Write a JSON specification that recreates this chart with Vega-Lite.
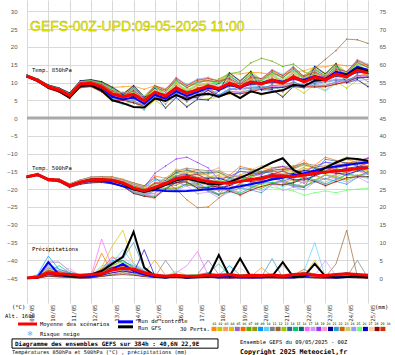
{
"$schema":"https://vega.github.io/schema/vega-lite/v6.json",
"width":341,"height":303,
"autosize":{"type":"none"},
"padding":{"left":27,"top":0,"right":27,"bottom":52},
"background":"white",
"config":{"view":{"stroke":null}},
"data":{"values":[{}]},
"datasets":{
"mem":[
{"h":0,"a":[12.1,11.6,11.9,11.7,12.0,11.5,11.8,12.0,11.7,11.5,11.9,11.7,12.1,11.6,11.9,12.0,11.6,12.0,11.8,11.7,12.1,11.6,11.9,11.8,11.6,12.0,11.7,11.8,11.5,11.9],"b":[-16.3,-16.6,-16.7,-16.4,-16.6,-16.3,-16.6,-16.5,-16.4,-16.7,-16.4,-16.5,-16.6,-16.3,-16.7,-16.4,-16.5,-16.6,-16.4,-16.6,-16.5,-16.7,-16.4,-16.3,-16.6,-16.4,-16.5,-16.4,-16.7,-16.5],"c":[0,0,0,0,0,0,0,0,0,0,0,0,0,0,0,0,0,0,0,0,0,0,0,0,0,0,0,0,0,0]},
{"h":12,"a":[11.0,10.3,10.7,10.5,10.8,10.2,10.6,10.9,10.4,10.2,10.8,10.5,11.0,10.4,10.7,10.9,10.3,10.8,10.6,10.4,11.0,10.3,10.7,10.7,10.4,10.9,10.5,10.6,10.2,10.8],"b":[-15.7,-16.1,-16.2,-15.8,-16.0,-15.6,-16.1,-15.8,-15.7,-16.1,-15.8,-15.9,-16.0,-15.6,-16.1,-15.8,-15.9,-16.1,-15.7,-16.0,-15.9,-16.2,-15.8,-15.6,-16.1,-15.8,-16.0,-15.7,-16.2,-15.9],"c":[0.3,0.2,0.5,0.2,0.8,0.1,0.4,0.1,1.0,0.2,0,0.3,0.5,0.1,0.7,0,0.2,0.4,0,0.6,0.3,0.1,0.5,0,0.2,0.8,0.1,0.3,0,0.4]},
{"h":24,"a":[9.3,8.5,9.0,8.7,9.1,8.3,8.9,9.2,8.6,8.4,9.0,8.7,9.3,8.5,8.9,9.2,8.4,9.1,8.8,8.6,9.3,8.4,9.0,8.9,8.5,9.1,8.7,8.8,8.3,9.0],"b":[-17.1,-17.5,-17.6,-17.2,-17.4,-17.0,-17.5,-17.2,-17.1,-17.5,-17.2,-17.3,-17.4,-17.0,-17.5,-17.2,-17.3,-17.5,-17.1,-17.4,-17.3,-17.6,-17.2,-17.0,-17.5,-17.2,-17.4,-17.1,-17.6,-17.3],"c":[2.5,1.0,3.0,1.5,4.5,0.8,2.0,1.2,6.2,3.5,1.0,2.2,1.8,2.8,1.5,0.5,2.0,3.2,1.0,2.5,1.5,3.8,2.0,0.8,1.2,2.6,1.0,1.8,0.6,2.2]},
{"h":36,"a":[8.4,7.5,8.1,7.8,8.3,7.3,8.0,8.4,7.6,7.4,8.1,7.7,8.5,7.5,8.0,8.3,7.4,8.2,7.8,7.7,8.5,7.5,8.1,8.0,7.6,8.3,7.8,7.9,7.3,8.2],"b":[-17.2,-17.7,-17.9,-17.3,-17.6,-17.1,-17.7,-17.4,-17.2,-17.8,-17.3,-17.5,-17.7,-17.1,-17.8,-17.4,-17.4,-17.7,-17.2,-17.6,-17.5,-17.9,-17.3,-17.1,-17.8,-17.4,-17.6,-17.3,-17.9,-17.5],"c":[1.5,0.8,2.0,1.0,4.5,0.5,1.2,0.8,2.5,1.8,0.5,1.5,1.0,2.0,3.5,0.3,1.2,2.0,0.8,1.5,1.0,2.5,1.8,0.5,0.8,1.6,0.6,1.2,0.4,1.4]},
{"h":48,"a":[7.0,5.7,6.5,6.1,6.8,5.5,6.4,6.9,5.9,5.6,6.6,6.1,7.1,5.8,6.5,6.9,5.7,6.7,6.2,6.0,7.1,5.7,6.6,6.4,5.9,6.8,6.1,6.3,5.5,6.7],"b":[-18.6,-19.3,-19.5,-18.8,-19.2,-18.5,-19.3,-18.9,-18.7,-19.4,-18.8,-19.1,-19.2,-18.5,-19.4,-18.8,-18.9,-19.3,-18.7,-19.1,-19.0,-19.5,-18.8,-18.6,-19.4,-18.9,-19.1,-18.7,-19.5,-19.0],"c":[0.8,0.5,1.2,0.6,2.0,0.3,0.8,0.5,1.5,1.0,0.3,0.8,0.6,1.2,1.5,0.2,0.8,1.2,0.5,2.8,0.6,1.5,1.0,0.3,0.5,1.0,0.4,0.8,0.2,0.9]},
{"h":60,"a":[10.4,8.8,9.8,9.3,10.1,8.5,9.6,10.3,9.0,8.6,9.9,9.2,10.5,8.9,9.7,10.2,8.7,10.0,9.4,9.1,10.5,8.8,9.9,9.7,9.0,10.2,9.3,9.6,8.6,10.0],"b":[-17.5,-18.3,-18.5,-17.8,-18.2,-17.4,-18.4,-17.9,-17.6,-18.5,-17.7,-18.1,-18.2,-17.4,-18.5,-17.8,-17.9,-18.3,-17.6,-18.2,-18.0,-18.6,-17.7,-17.5,-18.4,-17.8,-18.1,-17.6,-18.6,-17.9],"c":[0.3,0.2,0.5,0.2,0.8,0.1,0.4,0.1,0.6,0.2,0,0.3,0.5,0.1,0.7,0,0.2,0.4,0,0.6,0.3,0.1,0.5,0,0.2,0.8,0.1,0.3,0,0.4]},
{"h":72,"a":[10.7,9.1,10.1,9.6,10.4,8.8,9.9,10.6,9.3,8.9,10.2,9.5,10.8,9.2,10.0,10.5,9.0,10.3,9.7,9.4,10.8,9.1,10.2,10.0,9.3,10.5,9.6,9.9,8.9,10.3],"b":[-16.8,-17.8,-18.1,-17.1,-17.6,-16.6,-17.9,-17.2,-16.8,-18.0,-17.0,-17.5,-17.7,-16.6,-18.0,-17.1,-17.3,-17.8,-16.9,-17.6,-17.4,-18.2,-17.0,-16.7,-18.0,-17.2,-17.6,-16.9,-18.2,-17.3],"c":[0.5,0.3,0.8,0.4,1.0,0.2,0.6,0.2,0.8,0.5,0.1,0.5,0.6,0.3,1.0,0.1,0.4,0.6,0.1,0.8,0.4,0.3,0.8,0.1,0.4,1.0,0.2,0.5,0.1,0.6]},
{"h":84,"a":[10.2,7.8,9.3,8.5,9.7,7.3,9.0,10.0,8.1,7.5,9.4,8.4,10.3,7.9,9.1,9.9,7.6,9.6,8.7,8.2,10.2,7.7,9.3,9.0,8.0,9.8,8.4,8.9,7.4,9.5],"b":[-16.7,-17.7,-18.0,-17.0,-17.5,-16.5,-17.8,-17.1,-16.7,-17.9,-16.9,-17.4,-17.6,-16.5,-17.9,-17.0,-17.2,-17.7,-16.8,-17.5,-17.3,-18.1,-16.9,-16.6,-17.9,-17.1,-17.5,-16.8,-18.1,-17.2],"c":[2.0,1.0,2.5,3.0,1.5,7.0,1.2,1.0,2.0,3.5,0.5,1.8,1.0,2.5,1.5,0.5,11.0,2.0,0.8,1.5,1.5,1.0,2.5,0.6,1.0,1.8,0.8,1.5,0.5,2.0]},
{"h":96,"a":[8.6,5.4,7.4,6.4,8.0,4.8,7.0,8.4,5.8,5.0,7.6,6.2,8.8,5.6,7.2,8.2,5.2,7.8,6.6,6.0,8.7,5.3,7.5,7.1,5.7,8.1,6.3,6.9,4.9,7.7],"b":[-16.7,-18.0,-18.4,-17.1,-17.8,-16.5,-18.1,-17.3,-16.8,-18.3,-17.0,-17.6,-17.9,-16.6,-18.3,-17.2,-17.4,-18.1,-16.9,-17.8,-17.5,-18.5,-17.1,-16.6,-18.2,-17.2,-17.7,-16.9,-18.5,-17.4],"c":[3.0,2.0,4.0,9.0,2.5,1.5,3.5,2.0,5.0,4.0,1.0,3.0,2.5,4.5,2.0,1.0,3.0,5.5,1.5,2.5,3.0,4.0,6.0,1.0,2.0,3.5,1.5,2.5,0.8,3.0]},
{"h":108,"a":[8.8,3.8,5.4,6.2,6.7,5.3,5.2,6.9,6.1,3.8,5.5,6.3,6.9,6.0,5.8,6.4,5.2,6.1,7.2,4.9,6.7,5.2,5.9,7.3,6.1,6.2,6.0,4.7,5.0,6.3],"b":[-17.4,-18.7,-19.1,-17.8,-18.5,-17.2,-18.8,-18.0,-17.5,-19.0,-17.7,-18.3,-18.6,-17.3,-19.0,-17.9,-18.1,-18.8,-17.6,-18.5,-18.2,-19.2,-17.8,-17.3,-18.9,-17.9,-18.4,-17.6,-19.2,-18.1],"c":[4.0,2.5,3.0,13.5,3.0,2.0,5.0,3.5,4.5,8.0,1.5,3.5,2.0,5.0,3.0,1.5,4.0,6.0,2.0,3.0,2.5,5.5,4.0,1.5,2.5,4.5,2.0,3.0,1.0,3.5]},
{"h":120,"a":[9.0,5.0,7.5,6.2,8.2,4.2,7.0,8.7,5.5,4.5,7.7,6.0,9.2,5.2,7.2,8.5,4.7,8.0,6.5,5.7,9.1,4.8,7.6,7.1,5.3,8.3,6.1,6.8,4.3,7.8],"b":[-18.5,-20.5,-21.1,-19.1,-20.2,-18.2,-20.6,-19.4,-18.7,-20.9,-19.0,-19.9,-20.3,-18.3,-20.8,-19.2,-19.5,-20.5,-18.7,-20.1,-19.6,-21.1,-19.0,-18.4,-20.8,-19.3,-20.0,-18.8,-21.2,-19.6],"c":[2.5,1.5,2.0,4.0,2.0,1.5,3.0,2.0,3.5,4.0,1.0,2.5,1.5,3.0,2.0,1.0,2.5,3.5,1.5,2.0,1.5,10.0,3.0,1.0,1.5,3.0,1.5,2.0,0.8,2.5]},
{"h":132,"a":[8.1,2.3,4.4,4.9,5.8,3.6,4.1,6.1,4.7,2.2,4.5,5.0,6.2,4.5,4.7,5.6,3.6,5.2,6.0,3.5,6.0,3.6,4.9,6.2,4.6,5.3,4.7,3.5,3.3,5.3],"b":[-19.3,-21.3,-21.9,-19.9,-21.0,-19.0,-21.4,-20.2,-19.5,-21.7,-19.8,-20.7,-21.1,-19.1,-21.6,-20.0,-20.3,-21.3,-19.5,-20.9,-20.4,-21.9,-19.8,-19.2,-21.6,-20.1,-20.8,-19.6,-22.0,-20.4],"c":[1.5,0.8,1.2,2.0,1.0,0.8,1.5,1.0,2.0,2.5,0.5,1.5,0.8,2.0,1.2,0.5,1.5,2.0,0.8,1.2,0.8,2.5,1.5,0.5,0.8,1.5,8.0,1.2,0.4,1.5]},
{"h":144,"a":[9.1,5.0,7.8,6.8,8.8,5.3,7.6,8.8,5.8,7.9,6.9,6.8,9.2,5.6,8.4,8.4,5.6,9.2,6.8,7.7,6.7,5.8,8.8,7.6,5.3,8.8,6.8,7.8,5.6,9.1],"b":[-18.5,-19.6,-22.7,-18.2,-21.2,-16.3,-19.7,-19.9,-17.4,-22.3,-18.8,-18.3,-21.2,-16.8,-22.0,-19.4,-18.0,-21.7,-15.5,-21.3,-19.8,-20.3,-19.3,-18.7,-19.6,-19.4,-19.3,-19.5,-22.3,-18.3],"c":[5.0,0.5,0.8,0.6,0.5,0.3,0.8,0.5,1.0,0.8,0.3,0.8,0.5,1.0,0.6,0.3,0.8,1.0,0.4,0.6,0.5,1.2,0.8,0.3,0.5,0.8,0.6,0.6,0.2,0.8]},
{"h":156,"a":[8.3,3.0,5.1,6.2,7.3,6.1,5.6,6.4,5.4,8.2,3.9,6.9,6.4,5.4,7.4,5.7,5.5,7.8,6.9,6.9,2.8,5.7,7.4,7.5,4.9,6.6,6.2,5.6,5.4,7.9],"b":[-17.3,-19.7,-18.9,-17.9,-18.8,-16.9,-19.8,-17.5,-17.5,-19.8,-16.9,-18.8,-18.0,-18.8,-19.7,-17.3,-18.2,-20.0,-13.5,-18.9,-18.1,-20.1,-18.0,-17.1,-20.1,-18.1,-18.9,-17.2,-20.0,-18.2],"c":[0.8,0.3,0.5,0.4,0.3,0.2,0.5,0.3,0.6,0.5,5.0,0.5,0.3,0.6,0.4,0.2,0.5,0.6,0.3,0.4,0.3,0.8,0.5,0.2,0.3,0.5,0.4,0.4,0.1,0.5]},
{"h":168,"a":[9.9,5.7,8.7,7.8,10.5,6.9,9.0,9.6,6.3,11.4,7.3,8.2,10.0,6.1,10.6,9.1,6.7,11.5,7.6,9.7,5.8,7.0,10.9,8.8,5.5,10.3,7.9,9.4,6.4,11.2],"b":[-14.6,-19.5,-15.0,-18.0,-16.4,-16.3,-19.8,-15.1,-16.6,-17.6,-14.8,-18.9,-15.6,-18.1,-17.6,-15.4,-17.9,-17.8,-11.5,-16.3,-16.2,-20.2,-20.0,-14.3,-20.4,-16.1,-18.2,-14.2,-18.1,-17.7],"c":[0.5,0.3,1.0,0.4,0.8,0.2,0.6,0.3,0.8,0.5,0.8,0.5,0.3,1.2,0.4,0.2,1.5,0.6,0.3,0.4,0.3,0.8,0.5,0.2,0.3,2.0,0.4,0.4,0.1,0.5]},
{"h":180,"a":[9.4,3.4,6.0,6.9,8.5,6.7,6.5,7.4,5.9,9.5,4.5,7.6,7.4,5.8,8.5,6.6,6.0,9.1,7.5,7.9,3.1,6.2,8.6,8.3,5.2,7.7,6.9,6.5,5.8,9.1],"b":[-15.7,-18.5,-14.2,-17.6,-16.9,-15.4,-18.6,-14.9,-16.1,-18.1,-14.1,-17.4,-15.6,-18.9,-17.9,-14.6,-16.4,-19.1,-11.0,-17.1,-15.9,-18.4,-23.0,-15.5,-19.0,-16.5,-17.2,-15.0,-18.0,-16.2],"c":[0.3,0.2,0.5,0.2,0.8,0.1,0.4,0.1,0.6,0.2,0,0.3,0.5,0.1,0.7,0,3.5,0.4,0,0.6,0.3,0.1,0.5,0,0.2,0.8,0.1,0.3,0,0.4]},
{"h":192,"a":[9.4,5.2,8.2,7.3,10.0,6.4,8.5,9.1,5.8,10.9,6.8,7.7,9.5,5.6,10.1,8.6,6.2,11.0,7.1,9.2,5.3,6.5,10.4,8.3,5.0,9.8,7.4,8.9,5.9,10.7],"b":[-16.8,-18.6,-15.8,-17.9,-18.6,-14.5,-18.6,-15.9,-15.9,-20.2,-14.5,-16.7,-16.9,-19.1,-19.7,-15.4,-15.7,-21.3,-12.5,-19.1,-16.7,-18.2,-25.2,-16.9,-18.8,-17.6,-17.4,-16.5,-19.7,-15.8],"c":[0.5,0.3,0.8,0.4,1.0,0.2,0.6,0.2,0.8,0.5,0.1,0.5,0.6,0.3,1.0,0.1,7.5,0.6,0.1,0.8,0.4,0.3,0.8,0.1,0.4,1.0,0.2,0.5,0.1,0.6]},
{"h":204,"a":[11.4,5.4,8.0,8.9,10.5,8.7,8.5,9.4,7.9,11.5,6.5,9.6,9.4,7.8,10.5,8.6,8.0,11.1,9.5,9.9,5.1,8.2,10.6,10.3,7.2,9.7,8.9,8.5,7.8,11.1],"b":[-16.8,-20.1,-15.0,-19.0,-18.1,-16.3,-20.2,-15.7,-17.2,-19.6,-14.8,-18.7,-16.6,-20.5,-19.3,-15.4,-17.5,-20.8,-14.0,-18.4,-16.9,-19.9,-25.0,-16.5,-20.7,-17.7,-18.6,-15.9,-19.5,-17.4],"c":[0.8,0.5,1.2,0.6,5.0,0.3,0.8,0.5,1.5,1.0,0.3,0.8,0.6,1.2,1.5,0.2,0.8,1.2,0.5,1.0,0.6,1.5,1.0,0.3,0.5,1.0,0.4,0.8,0.2,0.9]},
{"h":216,"a":[10.4,5.9,8.9,7.7,10.1,6.3,11.0,10.1,6.5,8.9,7.9,7.7,10.6,6.2,9.7,9.7,6.2,10.6,7.7,8.7,7.6,6.5,10.1,8.6,5.9,10.1,7.7,8.9,5.9,10.4],"b":[-16.6,-21.4,-14.0,-19.9,-17.4,-17.9,-21.6,-15.3,-18.3,-18.8,-14.9,-20.5,-16.1,-21.7,-18.7,-15.2,-19.1,-20.1,-17.3,-17.5,-16.9,-21.4,-22.5,-15.9,-22.4,-17.6,-19.6,-15.1,-19.1,-18.8],"c":[0.5,0.3,0.8,0.4,1.0,0.2,0.6,0.2,0.8,0.5,0.1,0.5,0.6,0.3,4.0,0.1,0.4,0.6,0.1,0.8,0.4,0.3,0.8,0.1,0.4,1.0,0.2,0.5,0.1,0.6]},
{"h":228,"a":[12.5,7.7,10.7,9.2,11.6,6.8,12.5,12.2,8.3,7.1,11.0,8.9,12.8,8.0,10.4,11.9,7.4,11.3,9.5,8.6,12.7,7.6,10.9,10.3,8.2,11.8,9.1,10.0,7.0,11.2],"b":[-16.6,-20.2,-17.6,-18.9,-18.9,-16.1,-20.4,-17.0,-17.0,-20.4,-16.1,-18.9,-18.8,-17.8,-20.2,-16.6,-17.9,-20.6,-16.4,-19.0,-17.8,-20.8,-20.0,-16.3,-20.8,-17.8,-19.0,-16.4,-20.6,-17.9],"c":[0.3,0.2,0.5,0.2,0.8,0.1,0.4,0.1,3.5,0.2,0,0.3,0.5,0.1,0.7,0,0.2,0.4,0,0.6,0.3,0.1,0.5,0,0.2,0.8,0.1,0.3,0,0.4]},
{"h":240,"a":[12.4,5.8,8.4,8.7,10.0,7.0,13.0,10.4,8.3,5.6,8.6,8.7,10.6,8.1,8.7,9.8,7.1,9.3,9.8,7.2,10.4,7.2,9.0,10.2,8.3,9.6,8.5,7.5,6.8,9.5],"b":[-16.0,-18.4,-21.9,-16.1,-19.8,-13.6,-18.6,-18.0,-15.0,-21.4,-16.6,-16.7,-19.9,-14.2,-21.1,-17.4,-16.2,-20.6,-15.0,-19.9,-18.1,-19.6,-18.5,-16.1,-18.6,-17.4,-17.8,-17.2,-21.6,-16.5],"c":[0.5,0.3,0.8,0.4,1.0,0.2,0.6,0.2,0.8,0.5,0.1,0.5,0.6,0.3,1.0,0.1,0.4,0.6,0.1,0.8,0.4,0.3,0.8,0.1,0.4,1.0,0.2,3.0,0.1,0.6]},
{"h":252,"a":[12.9,8.1,11.1,9.6,12.0,7.2,15.5,12.6,8.7,7.5,11.4,9.3,13.2,8.4,10.8,12.3,7.8,11.7,9.9,9.0,13.1,8.0,11.3,10.7,8.6,12.2,9.5,10.4,7.4,11.6],"b":[-14.9,-18.8,-20.0,-16.1,-18.2,-14.3,-19.1,-16.7,-15.2,-19.7,-15.8,-17.6,-18.5,-14.5,-19.6,-16.3,-16.9,-19.0,-15.4,-18.1,-17.2,-20.2,-16.0,-14.6,-19.4,-16.4,-17.9,-15.5,-20.3,-17.0],"c":[0.3,0.2,0.5,0.2,0.8,0.1,0.4,0.1,0.6,0.2,0,0.3,0.5,0.1,0.7,0,0.2,0.4,0,0.6,0.3,0.1,0.5,0,0.2,0.8,0.1,0.3,0,0.4]},
{"h":264,"a":[12.7,6.4,9.0,9.6,10.9,8.5,16.8,10.7,8.9,9.7,7.9,9.9,10.8,8.7,10.4,10.0,8.3,11.0,10.4,9.6,7.9,8.5,10.6,10.9,8.4,10.3,9.5,8.8,8.1,11.1],"b":[-14.0,-19.4,-18.3,-16.3,-16.8,-15.2,-19.8,-15.6,-15.6,-18.2,-15.2,-18.7,-17.3,-15.0,-18.3,-15.4,-17.8,-17.6,-16.0,-16.5,-16.5,-21.0,-15.0,-13.3,-20.4,-18.5,-18.2,-14.0,-19.2,-17.7],"c":[3.0,0.3,0.8,0.4,1.0,0.2,0.6,0.2,0.8,0.5,0.1,0.5,0.6,0.3,1.0,0.1,0.4,0.6,0.1,0.8,0.4,0.3,0.8,0.1,0.4,1.0,0.2,0.5,0.1,0.6]},
{"h":276,"a":[12.1,7.9,10.9,10.0,12.7,9.1,16.0,11.8,8.5,13.6,9.5,10.4,12.2,8.3,12.8,11.3,8.9,13.7,9.8,11.9,8.0,9.2,13.1,11.0,7.7,12.5,10.1,11.6,8.6,13.4],"b":[-14.5,-18.1,-15.6,-17.0,-16.8,-14.0,-18.3,-14.9,-14.9,-18.3,-14.0,-16.8,-16.7,-15.5,-18.1,-14.5,-15.8,-18.5,-14.3,-16.9,-15.7,-18.7,-14.6,-13.9,-18.7,-19.5,-16.9,-14.3,-18.5,-15.8],"c":[0.5,0.3,0.8,0.4,1.0,0.2,0.6,0.2,0.8,0.5,0.1,0.5,0.6,0.3,1.0,0.1,0.4,0.6,0.1,0.8,0.4,5.5,0.8,0.1,0.4,1.0,0.2,0.5,0.1,0.6]},
{"h":288,"a":[12.2,6.2,8.8,9.7,11.3,9.5,14.5,10.2,8.7,12.3,7.3,10.4,10.2,8.6,11.3,9.4,8.8,11.9,10.3,10.7,5.9,9.0,11.4,11.1,8.0,10.5,9.7,9.3,8.6,11.9],"b":[-15.9,-17.7,-14.9,-17.0,-17.7,-13.6,-17.7,-15.0,-15.0,-19.3,-13.6,-15.8,-16.0,-18.2,-18.8,-14.5,-14.8,-20.4,-13.6,-18.2,-15.8,-17.3,-14.3,-16.0,-17.9,-20.0,-16.5,-15.6,-18.8,-14.9],"c":[0.3,0.2,3.5,0.2,0.8,0.1,0.4,0.1,0.6,0.2,0,0.3,0.5,0.1,0.7,0,0.2,0.4,0,0.6,0.3,0.1,0.5,0,0.2,0.8,0.1,0.3,0,0.4]},
{"h":300,"a":[13.0,8.8,11.8,10.9,13.6,10.0,15.2,12.7,9.4,14.5,10.4,11.3,13.1,9.2,13.7,12.2,9.8,14.6,10.7,12.8,8.9,10.1,14.0,11.9,8.6,13.4,11.0,12.5,9.5,14.3],"b":[-15.5,-18.8,-13.7,-17.7,-16.8,-15.0,-18.9,-14.4,-15.9,-18.3,-13.5,-17.4,-15.3,-19.2,-18.0,-14.1,-16.2,-19.5,-14.7,-17.1,-15.6,-18.6,-13.8,-15.2,-19.4,-20.5,-17.3,-14.6,-18.2,-16.1],"c":[0.5,0.3,0.8,0.4,1.0,0.2,0.6,0.2,0.8,0.5,0.1,0.5,0.6,0.3,1.0,0.1,0.4,0.6,0.1,0.8,0.4,0.3,0.8,0.1,0.4,1.0,0.2,0.5,0.1,0.6]},
{"h":312,"a":[13.3,7.0,9.6,10.2,11.5,9.1,13.0,11.3,9.5,10.3,8.5,12.0,11.4,9.3,11.0,10.6,8.9,11.6,11.0,10.2,8.5,9.1,11.2,11.5,9.0,10.9,10.1,9.4,8.7,11.7],"b":[-14.4,-19.2,-11.8,-17.7,-15.2,-15.7,-19.4,-13.1,-16.1,-16.6,-12.7,-18.3,-13.9,-19.5,-16.5,-13.0,-16.9,-17.9,-15.1,-15.3,-14.7,-19.2,-12.6,-13.7,-20.2,-21.7,-17.4,-12.9,-16.9,-16.6],"c":[0.8,0.5,1.2,0.6,1.5,0.3,0.8,0.5,1.5,2.0,0.3,0.8,0.6,1.2,1.5,0.2,0.8,1.2,0.5,1.0,0.6,1.5,2.5,0.3,0.5,1.0,0.4,0.8,0.2,0.9]},
{"h":324,"a":[14.3,9.5,12.5,11.0,13.4,8.6,11.9,14.0,10.1,8.9,12.8,14.0,14.6,9.8,12.2,13.7,9.2,13.1,11.3,10.4,14.5,9.4,12.7,12.1,10.0,13.6,10.9,11.8,8.8,13.0],"b":[-13.8,-17.4,-14.9,-16.3,-16.1,-13.3,-17.6,-14.2,-14.2,-17.6,-13.3,-16.1,-16.0,-14.8,-17.4,-13.8,-15.1,-17.8,-13.6,-16.2,-15.0,-18.0,-13.9,-13.2,-18.0,-21.0,-16.2,-13.6,-17.8,-15.1],"c":[0.5,0.3,0.8,5.0,1.0,0.2,0.6,0.2,0.8,10.0,0.1,0.5,0.6,0.3,1.0,0.1,0.4,0.6,0.1,0.8,0.4,0.3,0.8,0.1,0.4,1.0,0.2,0.5,0.1,0.6]},
{"h":336,"a":[14.4,7.8,10.4,10.7,12.0,9.0,10.0,12.4,10.3,7.6,10.6,16.5,12.6,10.1,10.7,11.8,9.1,11.3,11.8,9.2,12.4,9.2,11.0,12.2,10.3,11.6,10.5,9.5,8.8,11.5],"b":[-13.4,-15.8,-19.3,-13.5,-17.2,-11.0,-16.0,-15.4,-12.4,-18.8,-14.0,-14.1,-17.3,-11.6,-18.5,-14.8,-13.6,-18.0,-12.4,-17.3,-15.5,-17.0,-14.6,-13.5,-16.0,-20.5,-15.2,-14.6,-19.0,-13.9],"c":[0.3,0.2,0.5,0.2,0.8,0.1,0.4,0.1,0.6,0.2,0,0.3,0.5,0.1,0.7,0,0.2,5.0,0,0.6,0.3,0.1,0.5,0,0.2,0.8,0.1,0.3,0,0.4]},
{"h":348,"a":[15.1,10.3,13.3,11.8,14.2,9.4,12.7,14.8,10.9,9.7,13.6,19.0,15.4,10.6,13.0,14.5,10.0,13.9,12.1,11.2,15.3,10.2,13.5,12.9,10.8,14.4,11.7,12.6,9.6,13.8],"b":[-12.5,-16.4,-17.6,-13.7,-15.8,-11.9,-16.7,-14.3,-12.8,-17.3,-13.4,-15.2,-16.1,-12.1,-17.2,-13.9,-14.5,-16.6,-13.0,-15.7,-14.8,-17.8,-13.6,-12.2,-17.0,-21.0,-15.5,-13.1,-17.9,-14.6],"c":[0.5,0.3,0.8,0.4,1.0,0.2,0.6,0.2,0.8,0.5,0.1,4.0,0.6,0.3,1.0,0.1,0.4,0.6,0.1,0.8,0.4,0.3,0.8,0.1,0.4,1.0,0.2,0.5,0.1,0.6]},
{"h":360,"a":[14.7,8.4,11.0,11.6,12.9,10.5,10.9,12.7,10.9,11.7,9.9,22.2,12.8,10.7,12.4,12.0,10.3,13.0,12.4,11.6,9.9,10.5,12.6,12.9,10.4,12.3,11.5,10.8,10.1,13.1],"b":[-11.6,-17.0,-15.9,-13.9,-14.4,-12.8,-17.4,-13.2,-13.2,-15.8,-12.8,-16.3,-14.9,-12.6,-15.9,-13.0,-15.4,-15.2,-13.6,-14.1,-14.1,-18.6,-12.6,-10.9,-18.0,-20.3,-15.8,-11.6,-16.8,-15.3],"c":[0.8,0.5,1.2,0.6,1.5,0.3,0.8,0.5,1.5,1.0,0.3,13.5,0.6,1.2,1.5,0.2,0.8,1.2,0.5,1.0,0.6,1.5,1.0,0.3,0.5,1.0,0.4,0.8,0.2,0.9]},
{"h":372,"a":[14.9,10.7,13.7,12.8,15.5,11.9,14.0,14.6,11.3,16.4,12.3,22.0,15.0,11.1,15.6,14.1,11.7,16.5,12.6,14.7,10.8,12.0,15.9,13.8,10.5,15.3,12.9,14.4,11.4,16.2],"b":[-12.5,-16.1,-13.6,-15.0,-14.8,-12.0,-16.3,-12.9,-12.9,-16.3,-12.0,-14.8,-14.7,-13.5,-16.1,-12.5,-13.8,-16.5,-12.3,-14.9,-13.7,-16.7,-12.6,-11.9,-16.7,-20.0,-14.9,-12.3,-16.5,-13.8],"c":[0.5,0.3,0.8,0.4,1.0,0.2,0.6,0.2,0.8,0.5,5.0,0.5,0.6,0.3,1.0,0.1,0.4,0.6,0.1,0.8,0.4,0.3,0.8,0.1,0.4,1.0,0.2,0.5,0.1,0.6]},
{"h":384,"a":[15.1,9.1,11.7,12.6,14.2,12.4,12.2,13.1,11.6,15.2,10.2,21.0,13.1,11.5,14.2,12.3,11.7,14.8,13.2,13.6,8.8,11.9,14.3,14.0,10.9,13.4,12.6,12.2,11.5,14.8],"b":[-13.6,-15.4,-12.6,-14.7,-15.4,-11.3,-15.4,-12.7,-12.7,-17.0,-11.3,-13.5,-13.7,-15.9,-16.5,-12.2,-12.5,-18.1,-11.3,-15.9,-13.5,-15.0,-12.0,-13.7,-15.6,-19.7,-14.2,-13.3,-16.5,-12.6],"c":[0.3,0.2,0.5,0.2,0.8,0.1,0.4,0.1,0.6,0.2,0,0.3,0.5,0.1,0.7,0,0.2,0.4,0,0.6,0.3,0.1,0.5,0,0.2,0.8,0.1,0.3,0,0.4]}
],
"main":[
{"h":0,"ma":11.8,"mb":-16.5,"mc":0,"ca":11.8,"cb":-16.5,"cc":0,"ga":11.8,"gb":-16.5,"gc":0},
{"h":12,"ma":10.6,"mb":-15.9,"mc":0.3,"ca":10.6,"cb":-15.9,"cc":0.3,"ga":10.5,"gb":-15.9,"gc":0.2},
{"h":24,"ma":8.8,"mb":-17.3,"mc":1.5,"ca":8.8,"cb":-17.3,"cc":4.5,"ga":8.6,"gb":-17.3,"gc":1.5},
{"h":36,"ma":7.9,"mb":-17.5,"mc":1.2,"ca":7.8,"cb":-17.5,"cc":1.0,"ga":7.6,"gb":-17.5,"gc":1.0},
{"h":48,"ma":6.3,"mb":-19.0,"mc":1.0,"ca":6.2,"cb":-19.0,"cc":0.5,"ga":5.8,"gb":-19.0,"gc":0.5},
{"h":60,"ma":9.5,"mb":-18.0,"mc":0.8,"ca":9.4,"cb":-18.1,"cc":0.3,"ga":9.0,"gb":-18.0,"gc":0.5},
{"h":72,"ma":9.8,"mb":-17.4,"mc":1.0,"ca":9.6,"cb":-17.6,"cc":0.5,"ga":9.2,"gb":-17.3,"gc":1.0},
{"h":84,"ma":8.8,"mb":-17.3,"mc":1.2,"ca":8.5,"cb":-17.6,"cc":1.0,"ga":7.8,"gb":-17.2,"gc":2.0},
{"h":96,"ma":6.8,"mb":-17.5,"mc":2.3,"ca":6.0,"cb":-18.3,"cc":2.5,"ga":5.0,"gb":-17.6,"gc":4.0},
{"h":108,"ma":6.0,"mb":-18.2,"mc":2.8,"ca":5.2,"cb":-19.2,"cc":4.0,"ga":4.2,"gb":-18.5,"gc":6.0},
{"h":120,"ma":6.7,"mb":-19.7,"mc":2.5,"ca":5.8,"cb":-20.0,"cc":2.0,"ga":3.1,"gb":-20.0,"gc":13.0},
{"h":132,"ma":4.8,"mb":-20.5,"mc":1.5,"ca":4.0,"cb":-20.4,"cc":1.0,"ga":3.0,"gb":-20.8,"gc":3.0},
{"h":144,"ma":7.3,"mb":-19.5,"mc":0.8,"ca":6.5,"cb":-20.2,"cc":0.3,"ga":5.5,"gb":-20.0,"gc":0.5},
{"h":156,"ma":6.2,"mb":-18.4,"mc":0.5,"ca":5.5,"cb":-20.5,"cc":0.2,"ga":4.8,"gb":-18.8,"gc":0.2},
{"h":168,"ma":8.5,"mb":-17.0,"mc":0.8,"ca":7.5,"cb":-20.6,"cc":0.5,"ga":6.5,"gb":-17.5,"gc":0.5},
{"h":180,"ma":7.0,"mb":-16.6,"mc":0.5,"ca":6.2,"cb":-20.5,"cc":0.2,"ga":5.2,"gb":-17.0,"gc":0.2},
{"h":192,"ma":8.0,"mb":-17.2,"mc":0.6,"ca":7.3,"cb":-20.3,"cc":0.3,"ga":6.5,"gb":-17.8,"gc":0.5},
{"h":204,"ma":9.0,"mb":-17.8,"mc":0.9,"ca":8.5,"cb":-20.0,"cc":0.5,"ga":6.8,"gb":-18.5,"gc":0.3},
{"h":216,"ma":8.3,"mb":-18.2,"mc":0.8,"ca":8.0,"cb":-19.8,"cc":0.2,"ga":6.0,"gb":-18.6,"gc":6.5},
{"h":228,"ma":9.8,"mb":-18.3,"mc":1.0,"ca":9.5,"cb":-19.7,"cc":0.5,"ga":7.2,"gb":-18.0,"gc":0.5},
{"h":240,"ma":8.7,"mb":-17.8,"mc":0.6,"ca":8.5,"cb":-19.2,"cc":0.2,"ga":5.6,"gb":-16.8,"gc":5.5},
{"h":252,"ma":10.2,"mb":-17.3,"mc":0.8,"ca":10.0,"cb":-18.6,"cc":0.3,"ga":7.5,"gb":-15.5,"gc":0.3},
{"h":264,"ma":9.6,"mb":-17.0,"mc":0.7,"ca":9.8,"cb":-18.0,"cc":0.2,"ga":6.8,"gb":-14.0,"gc":0.5},
{"h":276,"ma":10.7,"mb":-16.2,"mc":0.9,"ca":10.8,"cb":-17.3,"cc":0.5,"ga":7.3,"gb":-12.5,"gc":0.5},
{"h":288,"ma":9.8,"mb":-16.3,"mc":0.6,"ca":10.2,"cb":-16.8,"cc":0.3,"ga":7.8,"gb":-11.3,"gc":4.5},
{"h":300,"ma":11.6,"mb":-16.5,"mc":1.0,"ca":11.3,"cb":-16.0,"cc":0.2,"ga":9.3,"gb":-14.6,"gc":0.3},
{"h":312,"ma":10.2,"mb":-16.0,"mc":1.2,"ca":10.7,"cb":-15.5,"cc":0.5,"ga":9.0,"gb":-16.0,"gc":0.5},
{"h":324,"ma":11.6,"mb":-15.5,"mc":0.8,"ca":11.8,"cb":-14.8,"cc":1.0,"ga":10.5,"gb":-15.8,"gc":4.0},
{"h":336,"ma":10.7,"mb":-15.2,"mc":0.7,"ca":11.0,"cb":-14.0,"cc":0.3,"ga":10.8,"gb":-14.0,"gc":0.5},
{"h":348,"ma":12.4,"mb":-14.9,"mc":1.0,"ca":13.0,"cb":-13.6,"cc":0.2,"ga":12.5,"gb":-12.5,"gc":0.2},
{"h":360,"ma":11.6,"mb":-14.6,"mc":1.2,"ca":12.3,"cb":-13.2,"cc":0.3,"ga":12.0,"gb":-11.3,"gc":0.3},
{"h":372,"ma":13.5,"mb":-14.2,"mc":1.0,"ca":14.4,"cb":-12.8,"cc":0.5,"ga":14.0,"gb":-11.5,"gc":0.5},
{"h":384,"ma":12.7,"mb":-14.0,"mc":0.8,"ca":13.5,"cb":-12.4,"cc":0.3,"ga":13.2,"gb":-12.0,"gc":0.2}
]
},
"resolve":{"scale":{"x":"independent","y":"independent"},"axis":{"x":"independent","y":"independent"}},
"layer":[
{"mark":{"type":"rule","color":"#a9a9a9","strokeWidth":3},"encoding":{"y":{"datum":0,"type":"quantitative","scale":{"domain":[-52,33.2],"nice":false,"zero":false},"axis":null}}},
{"data":{"name":"mem"},"transform":[{"flatten":["a","b","c"]},{"window":[{"op":"row_number","as":"m"}],"groupby":["h"]}],
 "mark":{"type":"line","strokeWidth":0.7,"point":{"filled":true,"size":2}},
 "encoding":{
  "x":{"field":"h","type":"quantitative","scale":{"domain":[0,384],"nice":false,"zero":false},"axis":{"values":[0,24,48,72,96,120,144,168,192,216,240,264,288,312,336,360,384],"labelExpr":"(9 + datum.value/24 < 10 ? '0' : '') + (9 + datum.value/24) + '/05'","labelAngle":270,"labelFont":"DejaVu Sans Mono","labelFontSize":5.7,"labelColor":"#333","labelOffset":4,"labelPadding":1,"labelFlush":false,"labelOverlap":false,"ticks":false,"domain":false,"grid":true,"gridColor":"#d9d9d9","gridWidth":1,"title":null}},
  "y":{"field":"a","type":"quantitative","scale":{"domain":[-52,33.2],"nice":false,"zero":false},"axis":{"orient":"left","values":[-45,-40,-35,-30,-25,-20,-15,-10,-5,0,5,10,15,20,25,30],"labelFont":"Liberation Sans","labelFontSize":6,"labelColor":"#555","labelPadding":10,"ticks":false,"domain":false,"grid":true,"gridColor":"#d9d9d9","gridWidth":1,"title":null}},
  "color":{"field":"m","type":"nominal","scale":{"domain":[1,2,3,4,5,6,7,8,9,10,11,12,13,14,15,16,17,18,19,20,21,22,23,24,25,26,27,28,29,30],"range":["#ff8c00","#c8c800","#ff9966","#e0c000","#9966cc","#ff6600","#66aa00","#999900","#0099ff","#66ccff","#808080","#996633","#99cc00","#336699","#00cc66","#006666","#ff66ff","#cc99ff","#9933ff","#ff99cc","#000099","#3399cc","#cc6600","#cccc66","#9999ff","#66ff66","#0000cc","#ffcc99","#990000","#cc3300"]},"legend":null}}},
{"data":{"name":"mem"},"transform":[{"flatten":["a","b","c"]},{"window":[{"op":"row_number","as":"m"}],"groupby":["h"]}],
 "mark":{"type":"line","strokeWidth":0.7,"point":{"filled":true,"size":2}},
 "encoding":{
  "x":{"field":"h","type":"quantitative","scale":{"domain":[0,384],"nice":false,"zero":false},"axis":null},
  "y":{"field":"b","type":"quantitative","scale":{"domain":[-52,33.2],"nice":false,"zero":false},"axis":{"orient":"right","values":[-45,-40,-35,-30,-25,-20,-15,-10,-5,0,5,10,15,20,25,30],"labelExpr":"datum.value + 45","labelFont":"Liberation Sans","labelFontSize":6,"labelColor":"#555","labelPadding":11,"ticks":false,"domain":false,"grid":false,"title":null}},
  "color":{"field":"m","type":"nominal","legend":null}}},
{"data":{"name":"mem"},"transform":[{"flatten":["a","b","c"]},{"window":[{"op":"row_number","as":"m"}],"groupby":["h"]}],
 "mark":{"type":"line","strokeWidth":0.7},
 "encoding":{
  "x":{"field":"h","type":"quantitative","scale":{"domain":[0,384],"nice":false,"zero":false},"axis":null},
  "y":{"field":"c","type":"quantitative","scale":{"domain":[-7,78.2],"nice":false,"zero":false},"axis":null},
  "color":{"field":"m","type":"nominal","legend":null}}},
{"data":{"name":"main"},"mark":{"type":"line","color":"#0000ff","strokeWidth":2},"encoding":{"x":{"field":"h","type":"quantitative","scale":{"domain":[0,384],"nice":false,"zero":false},"axis":null},"y":{"field":"ca","type":"quantitative","scale":{"domain":[-52,33.2],"nice":false,"zero":false},"axis":null}}},
{"data":{"name":"main"},"mark":{"type":"line","color":"#0000ff","strokeWidth":2},"encoding":{"x":{"field":"h","type":"quantitative","scale":{"domain":[0,384],"nice":false,"zero":false},"axis":null},"y":{"field":"cb","type":"quantitative","scale":{"domain":[-52,33.2],"nice":false,"zero":false},"axis":null}}},
{"data":{"name":"main"},"mark":{"type":"line","color":"#0000ff","strokeWidth":2},"encoding":{"x":{"field":"h","type":"quantitative","scale":{"domain":[0,384],"nice":false,"zero":false},"axis":null},"y":{"field":"cc","type":"quantitative","scale":{"domain":[-7,78.2],"nice":false,"zero":false},"axis":null}}},
{"data":{"name":"main"},"mark":{"type":"line","color":"#000000","strokeWidth":2},"encoding":{"x":{"field":"h","type":"quantitative","scale":{"domain":[0,384],"nice":false,"zero":false},"axis":null},"y":{"field":"ga","type":"quantitative","scale":{"domain":[-52,33.2],"nice":false,"zero":false},"axis":null}}},
{"data":{"name":"main"},"mark":{"type":"line","color":"#000000","strokeWidth":2},"encoding":{"x":{"field":"h","type":"quantitative","scale":{"domain":[0,384],"nice":false,"zero":false},"axis":null},"y":{"field":"gb","type":"quantitative","scale":{"domain":[-52,33.2],"nice":false,"zero":false},"axis":null}}},
{"data":{"name":"main"},"mark":{"type":"line","color":"#000000","strokeWidth":2},"encoding":{"x":{"field":"h","type":"quantitative","scale":{"domain":[0,384],"nice":false,"zero":false},"axis":null},"y":{"field":"gc","type":"quantitative","scale":{"domain":[-7,78.2],"nice":false,"zero":false},"axis":null}}},
{"data":{"name":"main"},"mark":{"type":"line","color":"#ff0000","strokeWidth":3},"encoding":{"x":{"field":"h","type":"quantitative","scale":{"domain":[0,384],"nice":false,"zero":false},"axis":null},"y":{"field":"ma","type":"quantitative","scale":{"domain":[-52,33.2],"nice":false,"zero":false},"axis":null}}},
{"data":{"name":"main"},"mark":{"type":"line","color":"#ff0000","strokeWidth":3},"encoding":{"x":{"field":"h","type":"quantitative","scale":{"domain":[0,384],"nice":false,"zero":false},"axis":null},"y":{"field":"mb","type":"quantitative","scale":{"domain":[-52,33.2],"nice":false,"zero":false},"axis":null}}},
{"data":{"name":"main"},"mark":{"type":"line","color":"#ff0000","strokeWidth":3},"encoding":{"x":{"field":"h","type":"quantitative","scale":{"domain":[0,384],"nice":false,"zero":false},"axis":null},"y":{"field":"mc","type":"quantitative","scale":{"domain":[-7,78.2],"nice":false,"zero":false},"axis":null}}},
{"mark":{"type":"text","text":"GEFS-00Z-UPD:09-05-2025 11:00","align":"left","baseline":"middle","font":"Liberation Sans","fontSize":14,"fill":"#f7f700","stroke":"#9a9a00","strokeWidth":0.35},"encoding":{"x":{"datum":3.4,"type":"quantitative","scale":{"domain":[0,384],"nice":false,"zero":false},"axis":null},"y":{"datum":25.7,"type":"quantitative","scale":{"domain":[-52,33.2],"nice":false,"zero":false},"axis":null}}},
{"mark":{"type":"text","text":"Temp. 850hPa","align":"left","baseline":"middle","font":"DejaVu Sans Mono","fontSize":5.5,"color":"#000"},"encoding":{"x":{"datum":5.6,"type":"quantitative","scale":{"domain":[0,384],"nice":false,"zero":false},"axis":null},"y":{"datum":13.5,"type":"quantitative","scale":{"domain":[-52,33.2],"nice":false,"zero":false},"axis":null}}},
{"mark":{"type":"text","text":"Temp. 500hPa","align":"left","baseline":"middle","font":"DejaVu Sans Mono","fontSize":5.5,"color":"#000"},"encoding":{"x":{"datum":5.6,"type":"quantitative","scale":{"domain":[0,384],"nice":false,"zero":false},"axis":null},"y":{"datum":-14.0,"type":"quantitative","scale":{"domain":[-52,33.2],"nice":false,"zero":false},"axis":null}}},
{"mark":{"type":"text","text":"Précipitations","align":"left","baseline":"middle","font":"DejaVu Sans Mono","fontSize":5.5,"color":"#000"},"encoding":{"x":{"datum":5.6,"type":"quantitative","scale":{"domain":[0,384],"nice":false,"zero":false},"axis":null},"y":{"datum":-36.8,"type":"quantitative","scale":{"domain":[-52,33.2],"nice":false,"zero":false},"axis":null}}},
{"mark":{"type":"text","text":"(°C)","align":"left","baseline":"middle","font":"DejaVu Sans Mono","fontSize":5.5,"color":"#000"},"encoding":{"x":{"datum":-16.9,"type":"quantitative","scale":{"domain":[0,384],"nice":false,"zero":false},"axis":null},"y":{"datum":-53.1,"type":"quantitative","scale":{"domain":[-52,33.2],"nice":false,"zero":false},"axis":null}}},
{"mark":{"type":"text","text":"(mm)","align":"left","baseline":"middle","font":"DejaVu Sans Mono","fontSize":5.5,"color":"#000"},"encoding":{"x":{"datum":391.9,"type":"quantitative","scale":{"domain":[0,384],"nice":false,"zero":false},"axis":null},"y":{"datum":-53.1,"type":"quantitative","scale":{"domain":[-52,33.2],"nice":false,"zero":false},"axis":null}}},
{"mark":{"type":"text","text":"Alt. 1600","align":"left","baseline":"middle","font":"DejaVu Sans Mono","fontSize":5.5,"color":"#000"},"encoding":{"x":{"datum":-24.8,"type":"quantitative","scale":{"domain":[0,384],"nice":false,"zero":false},"axis":null},"y":{"datum":-55.7,"type":"quantitative","scale":{"domain":[-52,33.2],"nice":false,"zero":false},"axis":null}}},
{"mark":{"type":"rule","color":"#ff0000","strokeWidth":3},"encoding":{"x":{"datum":-10.1,"type":"quantitative","scale":{"domain":[0,384],"nice":false,"zero":false},"axis":null},"x2":{"datum":11.3},"y":{"datum":-57.9,"type":"quantitative","scale":{"domain":[-52,33.2],"nice":false,"zero":false},"axis":null}}},
{"mark":{"type":"text","text":"Moyenne des scénarios","align":"left","baseline":"middle","font":"DejaVu Sans Mono","fontSize":5.5,"color":"#000"},"encoding":{"x":{"datum":14.6,"type":"quantitative","scale":{"domain":[0,384],"nice":false,"zero":false},"axis":null},"y":{"datum":-57.9,"type":"quantitative","scale":{"domain":[-52,33.2],"nice":false,"zero":false},"axis":null}}},
{"mark":{"type":"rule","color":"#0000ff","strokeWidth":3},"encoding":{"x":{"datum":102.5,"type":"quantitative","scale":{"domain":[0,384],"nice":false,"zero":false},"axis":null},"x2":{"datum":119.4},"y":{"datum":-57.3,"type":"quantitative","scale":{"domain":[-52,33.2],"nice":false,"zero":false},"axis":null}}},
{"mark":{"type":"rule","color":"#000000","strokeWidth":3},"encoding":{"x":{"datum":102.5,"type":"quantitative","scale":{"domain":[0,384],"nice":false,"zero":false},"axis":null},"x2":{"datum":119.4},"y":{"datum":-58.7,"type":"quantitative","scale":{"domain":[-52,33.2],"nice":false,"zero":false},"axis":null}}},
{"mark":{"type":"text","text":"Run de contrôle","align":"left","baseline":"middle","font":"DejaVu Sans Mono","fontSize":5.5,"color":"#000"},"encoding":{"x":{"datum":125,"type":"quantitative","scale":{"domain":[0,384],"nice":false,"zero":false},"axis":null},"y":{"datum":-57.1,"type":"quantitative","scale":{"domain":[-52,33.2],"nice":false,"zero":false},"axis":null}}},
{"mark":{"type":"text","text":"Run GFS","align":"left","baseline":"middle","font":"DejaVu Sans Mono","fontSize":5.5,"color":"#000"},"encoding":{"x":{"datum":125,"type":"quantitative","scale":{"domain":[0,384],"nice":false,"zero":false},"axis":null},"y":{"datum":-59.0,"type":"quantitative","scale":{"domain":[-52,33.2],"nice":false,"zero":false},"axis":null}}},
{"mark":{"type":"text","text":"❄","align":"center","baseline":"middle","font":"DejaVu Sans","fontSize":7,"color":"#5aaaf0"},"encoding":{"x":{"datum":3.4,"type":"quantitative","scale":{"domain":[0,384],"nice":false,"zero":false},"axis":null},"y":{"datum":-60.7,"type":"quantitative","scale":{"domain":[-52,33.2],"nice":false,"zero":false},"axis":null}}},
{"mark":{"type":"text","text":"Risque neige","align":"left","baseline":"middle","font":"DejaVu Sans Mono","fontSize":5.5,"color":"#000"},"encoding":{"x":{"datum":14.6,"type":"quantitative","scale":{"domain":[0,384],"nice":false,"zero":false},"axis":null},"y":{"datum":-60.7,"type":"quantitative","scale":{"domain":[-52,33.2],"nice":false,"zero":false},"axis":null}}},
{"mark":{"type":"text","text":"30 Perts.","align":"left","baseline":"middle","font":"DejaVu Sans Mono","fontSize":5.5,"color":"#000"},"encoding":{"x":{"datum":172.3,"type":"quantitative","scale":{"domain":[0,384],"nice":false,"zero":false},"axis":null},"y":{"datum":-59.3,"type":"quantitative","scale":{"domain":[-52,33.2],"nice":false,"zero":false},"axis":null}}},
{"data":{"name":"mem"},"transform":[{"flatten":["a","b","c"]},{"window":[{"op":"row_number","as":"m"}],"groupby":["h"]},{"filter":"datum.h == 0"}],
 "mark":{"type":"bar","width":5},
 "encoding":{"x":{"field":"m","type":"quantitative","scale":{"domain":[-30.25,26.583],"nice":false,"zero":false},"axis":null},"y":{"datum":-58.7,"type":"quantitative","scale":{"domain":[-52,33.2],"nice":false,"zero":false},"axis":null},"y2":{"datum":-59.9},"color":{"field":"m","type":"nominal","legend":null}}},
{"data":{"name":"mem"},"transform":[{"flatten":["a","b","c"]},{"window":[{"op":"row_number","as":"m"}],"groupby":["h"]},{"filter":"datum.h == 0"}],
 "mark":{"type":"text","font":"DejaVu Sans Mono","fontSize":3.3,"baseline":"middle","color":"#000"},
 "encoding":{"x":{"field":"m","type":"quantitative","scale":{"domain":[-30.25,26.583],"nice":false,"zero":false},"axis":null},"y":{"datum":-57.9,"type":"quantitative","scale":{"domain":[-52,33.2],"nice":false,"zero":false},"axis":null},"text":{"field":"m","type":"quantitative","format":"02d"}}},
{"mark":{"type":"rect","filled":false,"stroke":"#000","strokeWidth":1},"encoding":{"x":{"datum":-16.9,"type":"quantitative","scale":{"domain":[0,384],"nice":false,"zero":false},"axis":null},"x2":{"datum":215.1},"y":{"datum":-62.1,"type":"quantitative","scale":{"domain":[-52,33.2],"nice":false,"zero":false},"axis":null},"y2":{"datum":-64.7}}},
{"mark":{"type":"text","text":"Diagramme des ensembles GEFS sur 384h : 40,6N 22,9E","align":"left","baseline":"middle","font":"DejaVu Sans Mono","fontSize":6,"fontWeight":"bold","color":"#000"},"encoding":{"x":{"datum":-13.5,"type":"quantitative","scale":{"domain":[0,384],"nice":false,"zero":false},"axis":null},"y":{"datum":-63.5,"type":"quantitative","scale":{"domain":[-52,33.2],"nice":false,"zero":false},"axis":null}}},
{"mark":{"type":"text","text":"Températures 850hPa et 500hPa (°C) , précipitations (mm)","align":"left","baseline":"middle","font":"DejaVu Sans Mono","fontSize":5.2,"color":"#000"},"encoding":{"x":{"datum":-16.9,"type":"quantitative","scale":{"domain":[0,384],"nice":false,"zero":false},"axis":null},"y":{"datum":-65.8,"type":"quantitative","scale":{"domain":[-52,33.2],"nice":false,"zero":false},"axis":null}}},
{"mark":{"type":"text","text":"Ensemble GEFS du 09/05/2025 - 00Z","align":"left","baseline":"middle","font":"DejaVu Sans Mono","fontSize":5.4,"color":"#000"},"encoding":{"x":{"datum":239.9,"type":"quantitative","scale":{"domain":[0,384],"nice":false,"zero":false},"axis":null},"y":{"datum":-63.0,"type":"quantitative","scale":{"domain":[-52,33.2],"nice":false,"zero":false},"axis":null}}},
{"mark":{"type":"text","text":"Copyright 2025 Meteociel,fr","align":"left","baseline":"middle","font":"DejaVu Sans Mono","fontSize":6.6,"fontWeight":"bold","color":"#000"},"encoding":{"x":{"datum":239.9,"type":"quantitative","scale":{"domain":[0,384],"nice":false,"zero":false},"axis":null},"y":{"datum":-65.8,"type":"quantitative","scale":{"domain":[-52,33.2],"nice":false,"zero":false},"axis":null}}}
]
}
